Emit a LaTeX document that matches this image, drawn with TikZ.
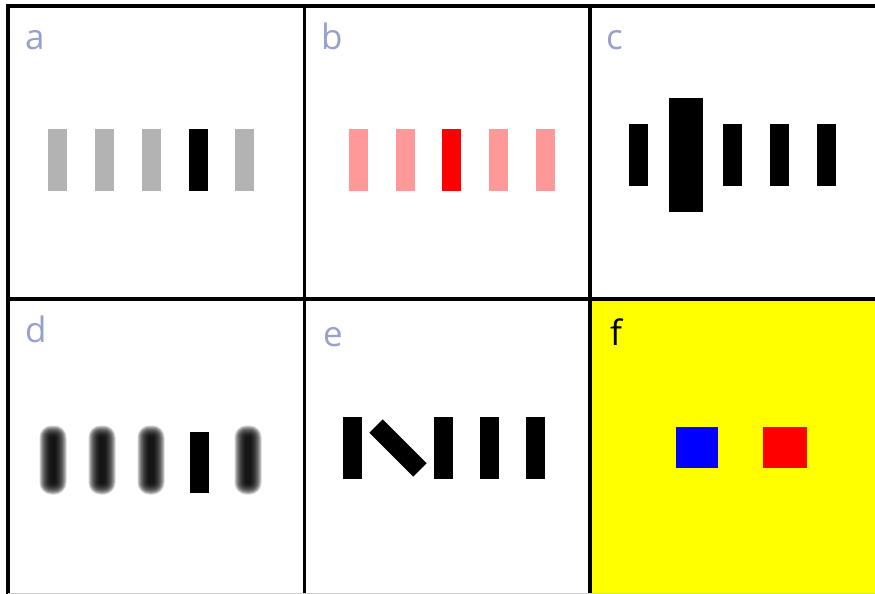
\documentclass[tikz,border=0pt]{standalone}
\usepackage{fontspec}
\setmainfont{Open Sans}
\definecolor{lbl}{HTML}{98A0CC}
\definecolor{barg}{HTML}{B3B3B3}
\definecolor{pinkbar}{HTML}{FF9999}
\definecolor{ylw}{HTML}{FFFF00}
\tikzset{
  lab/.style={anchor=base west, inner sep=0pt, font=\fontsize{35}{35}\selectfont, text=lbl},
  frame/.style={line width=3.2pt, black},
  bar/.style={fill=black, draw=none},
}
\begin{document}
\begin{tikzpicture}[x=1pt,y=-1pt]
\useasboundingbox (0,0) rectangle (875,594);
\fill[white] (0,0) rectangle (875,594);
% panel f background
\fill[ylw] (590,299) rectangle (875,594);
% frame
\draw[frame] (8,594) -- (8,6) -- (875,6);
\draw[frame] (304.5,6) -- (304.5,594);
\draw[frame] (590,6) -- (590,594);
\draw[frame] (8,299) -- (875,299);
\draw[gray!40, line width=1pt] (8,593.5) -- (875,593.5);
% labels
\node[lab] (la) at (25,50) {a};
\node[lab] (lb) at (321,50) {b};
\node[lab] (lc) at (606,50) {c};
\node[lab] (ld) at (25,342) {d};
\node[lab] (le) at (323,346) {e};
\node[lab, text=black] (lf) at (610,345) {f};
% panel a
\foreach \x in {48,95,142,235} \fill[barg] (\x,129) rectangle ++(19,62);
\fill[black] (189,129) rectangle ++(19,62);
% panel b
\foreach \x in {349,396,489,536} \fill[pinkbar] (\x,129) rectangle ++(19,62);
\fill[red] (442,129) rectangle ++(19,62);
% panel c
\foreach \x in {629,723,770,817} \fill[bar] (\x,124) rectangle ++(19,62);
\fill[bar] (669,98) rectangle (703,212);
% panel d (blurred bars)
\foreach \cx in {53,102,151,248}{
  \foreach \e in {4,3,...,-7}{
    \fill[black, fill opacity=0.18, rounded corners={max(\e+8,1.5)*1pt}]
      (\cx-9.5-\e,460-30.5-\e) rectangle (\cx+9.5+\e,460+30.5+\e);
  }
}
\fill[bar] (190,432) rectangle (209,493);
% panel e
\foreach \x in {343,434,480,526} \fill[bar] (\x,417) rectangle ++(19,62);
\fill[bar, rotate around={45:(398,448)}] (388.5,417) rectangle ++(19,62);
% panel f squares
\fill[blue] (676,427) rectangle (718,468);
\fill[red] (763,427) rectangle (807,468);
\end{tikzpicture}
\end{document}
